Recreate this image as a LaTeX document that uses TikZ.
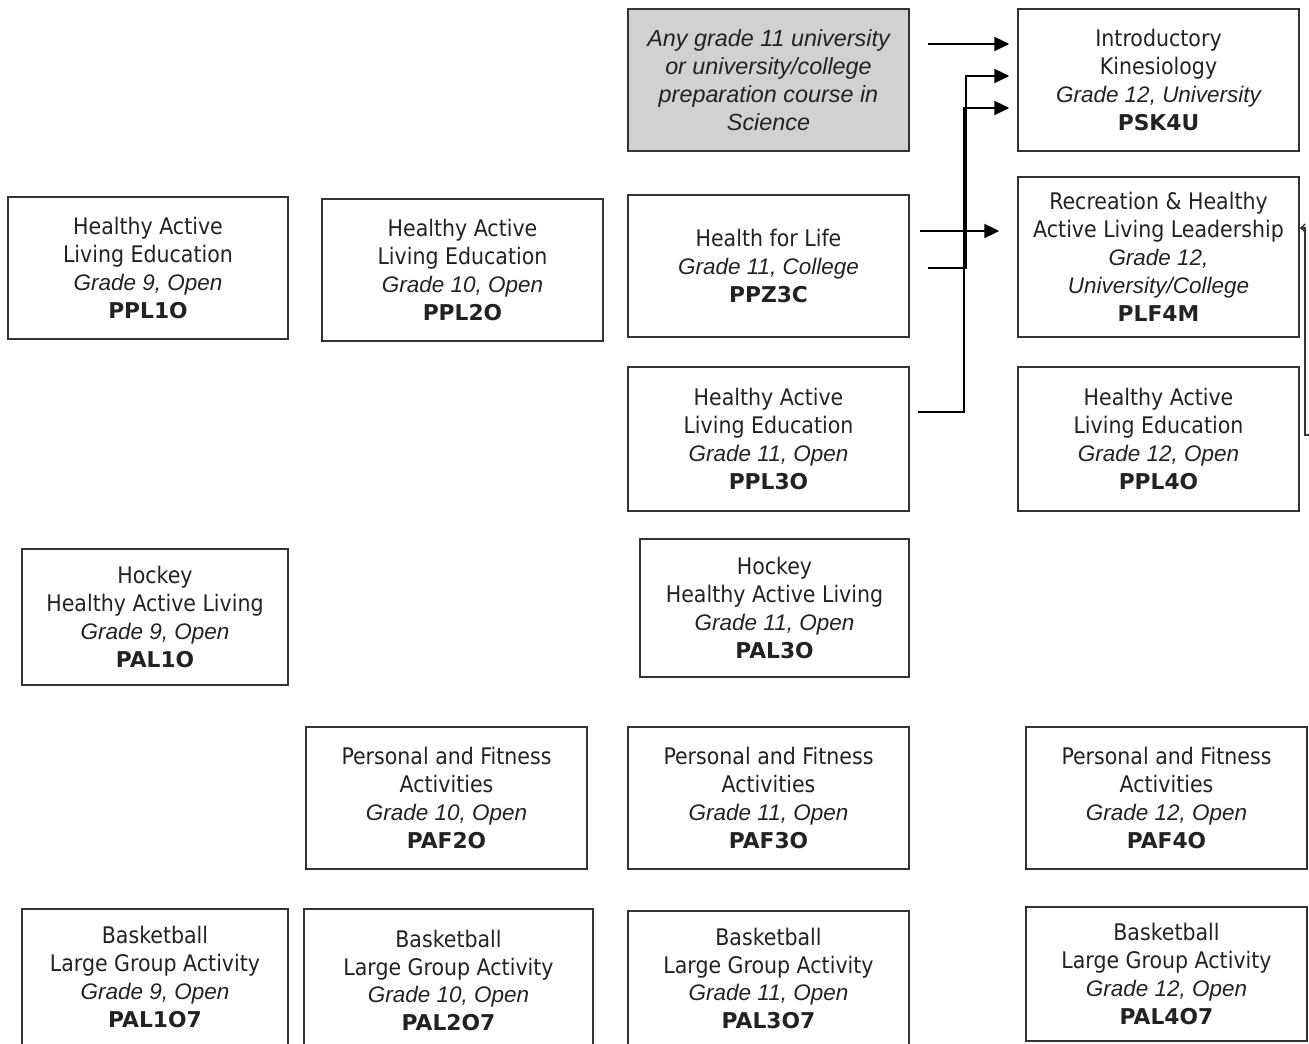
\documentclass[tikz,border=0pt]{standalone}
\usepackage{fontspec}
\setmainfont{DejaVu Sans Condensed}
\newfontfamily\gradefont{Liberation Sans}
\newfontfamily\codefont{DejaVu Sans}
\usetikzlibrary{arrows.meta}

\definecolor{inkgray}{HTML}{222222}
\definecolor{boxline}{HTML}{333333}
\definecolor{prefill}{HTML}{D1D1D1}

\newcommand{\grd}[1]{{\gradefont\itshape\fontsize{12.8}{15.9}\selectfont #1}}
\newcommand{\cde}[1]{{\codefont\bfseries\fontsize{12.4}{15.9}\selectfont #1}}

\tikzset{
  course/.style={rectangle, draw=boxline, line width=0.9pt, inner sep=0pt,
    align=center, text=inkgray, minimum width=5.62cm, minimum height=2.84cm,
    font=\fontsize{13}{15.9}\selectfont},
  prereq/.style={course, fill=prefill,
    font=\gradefont\itshape\fontsize{13.3}{15.9}\selectfont},
  flow/.style={draw=black, line width=1.1pt, -{Triangle[length=8.5pt,width=8pt]}},
  backflow/.style={draw=boxline, line width=0.8pt, -{Straight Barb[length=2.5pt,width=4.5pt]}}
}

\begin{document}
\begin{tikzpicture}[x=0.02cm,y=-0.02cm]
    \useasboundingbox (0,0) rectangle (1309,1044);

    % Grade 12 column and prerequisite
    \node[prereq] (sci) at (768.5,80) {Any grade 11 university\\ or university/college\\ preparation course in\\ Science};
    \node[course] (psk) at (1158.5,80) {Introductory\\ Kinesiology\\ \grd{Grade 12, University}\\ \cde{PSK4U}};
    \node[course, minimum height=3.2cm] (plf) at (1158.5,257) {Recreation \& Healthy\\ Active Living Leadership\\ \grd{Grade 12,}\\ \grd{University/College}\\ \cde{PLF4M}};
    \node[course, minimum height=2.88cm] (ppl4) at (1158.5,439) {Healthy Active\\ Living Education\\ \grd{Grade 12, Open}\\ \cde{PPL4O}};

    % Healthy active living
    \node[course, minimum width=5.6cm] (ppl1) at (148,268) {Healthy Active\\ Living Education\\ \grd{Grade 9, Open}\\ \cde{PPL1O}};
    \node[course] (ppl2) at (462.5,270) {Healthy Active\\ Living Education\\ \grd{Grade 10, Open}\\ \cde{PPL2O}};
    \node[course] (ppz) at (768.5,266) {Health for Life\\ \grd{Grade 11, College}\\ \cde{PPZ3C}};
    \node[course, minimum height=2.88cm] (ppl3) at (768.5,439) {Healthy Active\\ Living Education\\ \grd{Grade 11, Open}\\ \cde{PPL3O}};

    % Hockey
    \node[course, minimum width=5.32cm, minimum height=2.72cm] (pal1) at (155,617) {Hockey\\ Healthy Active Living\\ \grd{Grade 9, Open}\\ \cde{PAL1O}};
    \node[course, minimum width=5.38cm, minimum height=2.76cm] (pal3) at (774.5,608) {Hockey\\ Healthy Active Living\\ \grd{Grade 11, Open}\\ \cde{PAL3O}};

    % Personal and fitness
    \node[course] (paf2) at (446.5,798) {Personal and Fitness\\ Activities\\ \grd{Grade 10, Open}\\ \cde{PAF2O}};
    \node[course] (paf3) at (768.5,798) {Personal and Fitness\\ Activities\\ \grd{Grade 11, Open}\\ \cde{PAF3O}};
    \node[course] (paf4) at (1166.5,798) {Personal and Fitness\\ Activities\\ \grd{Grade 12, Open}\\ \cde{PAF4O}};

    % Basketball
    \node[course, minimum width=5.32cm, minimum height=2.72cm] (bb1) at (155,977) {Basketball\\ Large Group Activity\\ \grd{Grade 9, Open}\\ \cde{PAL1O7}};
    \node[course, minimum width=5.78cm, minimum height=2.86cm] (bb2) at (448.5,980.5) {Basketball\\ Large Group Activity\\ \grd{Grade 10, Open}\\ \cde{PAL2O7}};
    \node[course, minimum height=2.7cm] (bb3) at (768.5,978.5) {Basketball\\ Large Group Activity\\ \grd{Grade 11, Open}\\ \cde{PAL3O7}};
    \node[course, minimum height=2.68cm] (bb4) at (1166.5,974) {Basketball\\ Large Group Activity\\ \grd{Grade 12, Open}\\ \cde{PAL4O7}};

    % Arrows
    \coordinate (s1) at (928,44);
    \coordinate (z1) at (920,231);
    \coordinate (z2) at (928,268);
    \coordinate (k1) at (966,76);
    \coordinate (l1) at (918,412);
    \coordinate (k2) at (964,108);
    \coordinate (r1) at (1330,435);
    \coordinate (r2) at (1305,228);

    \draw[flow, shorten >=0.16cm] (s1) -- (s1 -| psk.west);
    \draw[flow, shorten >=0.36cm] (z1) -- (z1 -| plf.west);
    \draw[flow, shorten >=0.16cm] (z2) -| (k1) -- (k1 -| psk.west);
    \draw[flow, shorten >=0.16cm] (l1) -| (k2) -- (k2 -| psk.west);
    \draw[backflow] (r1) -| (r2) -- (r2 -| plf.east);
\end{tikzpicture}
\end{document}
